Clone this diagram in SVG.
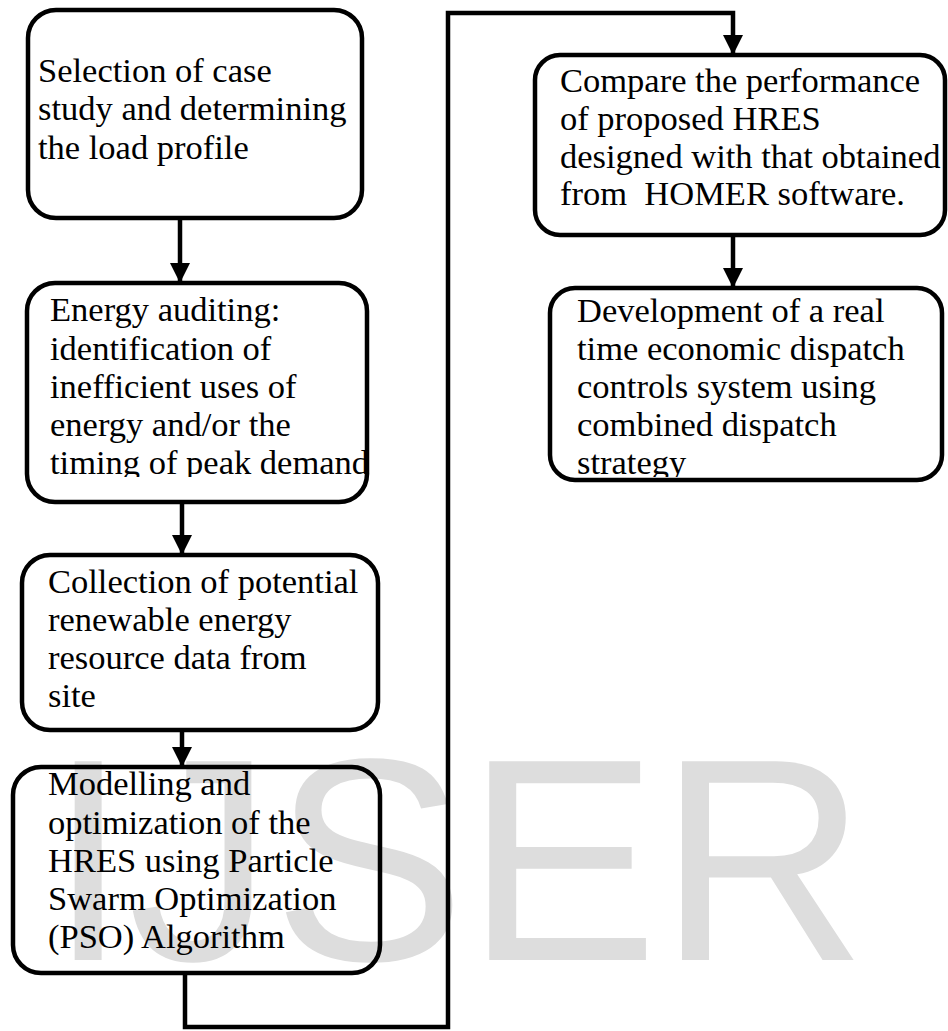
<svg xmlns="http://www.w3.org/2000/svg" width="948" height="1031" viewBox="0 0 948 1031">
<style>
.box{fill:none;stroke:#000;stroke-width:4.5}
.t{font-family:"Liberation Serif","Times New Roman",serif;font-size:34.5px;fill:#000;white-space:pre}
.wm{font-family:"Liberation Sans",Arial,sans-serif;font-size:289px;fill:#dddddd}
.c{fill:none;stroke:#000;stroke-width:4.5}
</style>
<defs>
<marker id="ah" markerUnits="userSpaceOnUse" markerWidth="20" markerHeight="20" refX="18" refY="9" orient="auto" viewBox="0 0 18 18">
<path d="M0,0 L18,9 L0,18 z" fill="#000"/>
</marker>
<clipPath id="clip2"><rect x="0" y="280" width="440" height="197"/></clipPath>
<clipPath id="clip6"><rect x="540" y="285" width="408" height="192"/></clipPath>
</defs>
<text class="wm" x="48" y="960">IJSER</text>
<g id="connectors">
<line class="c" x1="180" y1="218" x2="180" y2="283" marker-end="url(#ah)"/>
<line class="c" x1="182" y1="502" x2="182" y2="555" marker-end="url(#ah)"/>
<line class="c" x1="182" y1="730" x2="182" y2="767" marker-end="url(#ah)"/>
<path class="c" d="M185,973 V1027 H448 V13 H733 V55" marker-end="url(#ah)"/>
<line class="c" x1="733" y1="235" x2="733" y2="288" marker-end="url(#ah)"/>
</g>
<g id="n1">
<rect class="box" x="28" y="10" width="334" height="208" rx="28"/>
<text class="t" x="38" y="82">Selection of case</text>
<text class="t" x="38" y="120">study and determining</text>
<text class="t" x="38" y="159">the load profile</text>
</g>
<g id="n2">
<rect class="box" x="27" y="283" width="340" height="219" rx="28"/>
<g clip-path="url(#clip2)">
<text class="t" x="50" y="321">Energy auditing:</text>
<text class="t" x="50" y="359.5">identification of</text>
<text class="t" x="50" y="398">inefficient uses of</text>
<text class="t" x="50" y="436">energy and/or the</text>
<text class="t" x="50" y="474">timing of peak demand</text>
</g>
</g>
<g id="n3">
<rect class="box" x="22" y="555" width="356" height="175" rx="28"/>
<text class="t" x="48" y="593">Collection of potential</text>
<text class="t" x="48" y="631">renewable energy</text>
<text class="t" x="48" y="669">resource data from</text>
<text class="t" x="48" y="707">site</text>
</g>
<g id="n4">
<rect class="box" x="13" y="767" width="367" height="206" rx="28"/>
<text class="t" x="48" y="795">Modelling and</text>
<text class="t" x="48" y="833.5">optimization of the</text>
<text class="t" x="48" y="872">HRES using Particle</text>
<text class="t" x="48" y="910">Swarm Optimization</text>
<text class="t" x="48" y="948">(PSO) Algorithm</text>
</g>
<g id="n5">
<rect class="box" x="535" y="55" width="410" height="180" rx="25"/>
<text class="t" x="560" y="92">Compare the performance</text>
<text class="t" x="560" y="130">of proposed HRES</text>
<text class="t" x="560" y="168">designed with that obtained</text>
<text class="t" x="560" y="205">from  HOMER software.</text>
</g>
<g id="n6">
<rect class="box" x="550" y="288" width="392" height="192" rx="25"/>
<g clip-path="url(#clip6)">
<text class="t" x="577" y="322">Development of a real</text>
<text class="t" x="577" y="360">time economic dispatch</text>
<text class="t" x="577" y="398">controls system using</text>
<text class="t" x="577" y="436">combined dispatch</text>
<text class="t" x="577" y="474">strategy</text>
</g>
</g>
</svg>
